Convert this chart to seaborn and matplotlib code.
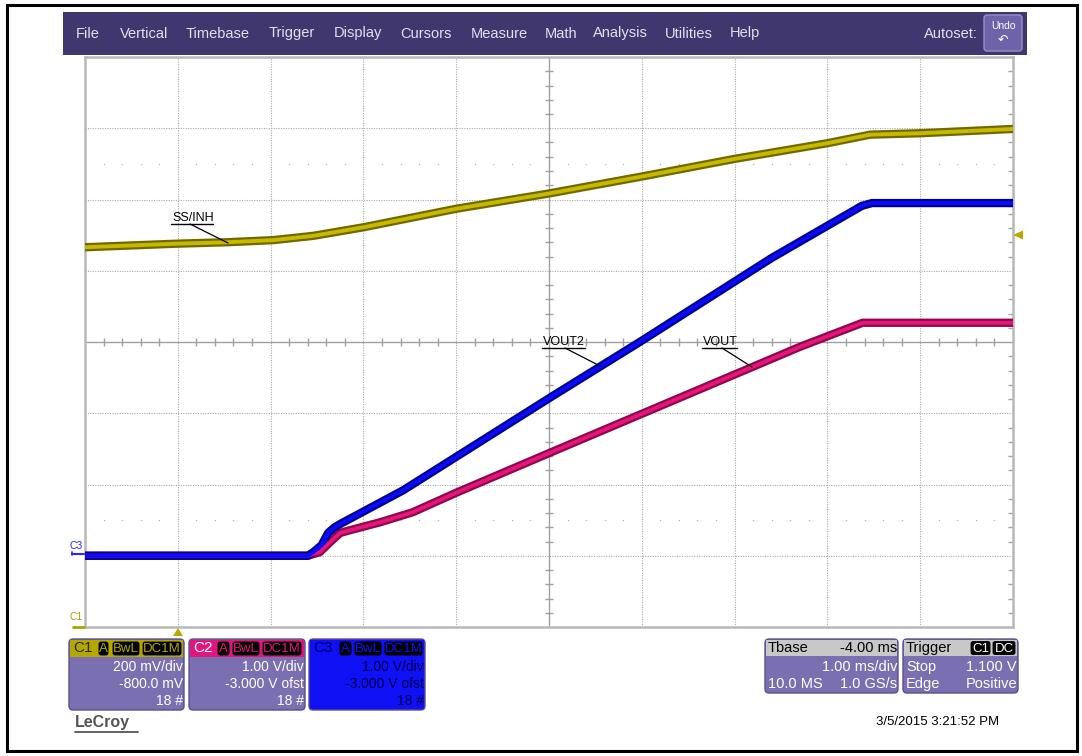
import numpy as np
import pandas as pd
import seaborn as sns
import matplotlib
matplotlib.use("Agg")
import matplotlib.pyplot as plt
from matplotlib.patches import FancyBboxPatch, Rectangle, Polygon

# ---------------- data ----------------
c1_time_ms = [-1.0, -0.01, 0.53, 1.03, 1.46, 2.0, 3.0, 3.98, 4.99, 6.0, 7.0, 7.46, 8.0, 9.0]
c1_volts = [1.066, 1.076, 1.080, 1.086, 1.098, 1.122, 1.174, 1.216, 1.264, 1.314, 1.358, 1.382, 1.386, 1.398]

c3_time_ms = [-1.0, 1.40, 1.46, 1.55, 1.62, 1.69, 1.77, 2.43, 4.0, 4.99, 6.40, 7.37, 7.48, 9.0]
c3_volts = [0.0, 0.0, 0.05, 0.15, 0.32, 0.40, 0.46, 0.92, 2.21, 3.01, 4.18, 4.91, 4.95, 4.95]

c2_time_ms = [-1.0, 1.40, 1.53, 1.64, 1.75, 1.86, 2.18, 2.53, 3.01, 4.0, 6.70, 7.38, 9.0]
c2_volts = [0.0, 0.0, 0.05, 0.19, 0.32, 0.36, 0.47, 0.61, 0.89, 1.44, 2.93, 3.27, 3.27]

# channel settings (volts/div, offset volts)
c1_scale, c1_offset = 0.2, -0.8
c2_scale, c2_offset = 1.0, -3.0
c3_scale, c3_offset = 1.0, -3.0
time_per_div_ms = 1.0
tbase_delay_ms = -4.0

menu_items = ["File", "Vertical", "Timebase", "Trigger", "Display", "Cursors",
              "Measure", "Math", "Analysis", "Utilities", "Help"]

# ---------------- figure ----------------
sns.set_theme(style="white")
plt.rcParams['font.family'] = ['Liberation Sans', 'DejaVu Sans']
W, H = 1082, 756
fig = plt.figure(figsize=(W / 100, H / 100), dpi=100)
fig.patch.set_facecolor('white')

# scope graticule axes
L, T, R, B = 85, 57, 1013, 627
ax = fig.add_axes([L / W, (H - B) / H, (R - L) / W, (B - T) / H])
ax.set_zorder(1)
ax.set_facecolor('white')
center_t = -tbase_delay_ms
x0 = center_t - 5 * time_per_div_ms
x1 = center_t + 5 * time_per_div_ms
ax.set_xlim(x0, x1)
ax.set_ylim(0, 8)
ax.set_xticks([]); ax.set_yticks([])
for s in ax.spines.values():
    s.set_color('#b8b8b8'); s.set_linewidth(1.8)

grid_col = '#aaaaaa'
for k in range(1, 10):
    if k == 5:
        continue
    ax.axvline(x0 + k, color=grid_col, lw=0.8, ls=(0, (1, 1.2)), zorder=0)
for k in range(1, 8):
    if k == 4:
        continue
    ax.axhline(k, color=grid_col, lw=0.8, ls=(0, (1, 1.2)), zorder=0)
# center cross
ax.axvline(center_t, color='#a0a0a0', lw=1.0, zorder=0)
ax.axhline(4, color='#a0a0a0', lw=1.0, zorder=0)
px_x = (x1 - x0) / (R - L)
px_y = 8 / (B - T)
xt = np.array([x0 + 0.2 * k for k in range(51) if k % 5 != 0])
ax.vlines(xt, 4 - 4 * px_y, 4 + 4 * px_y, color='#a0a0a0', lw=1.0, zorder=0)
yt = np.array([0.2 * k for k in range(41) if k % 5 != 0])
ax.hlines(yt, center_t - 4 * px_x, center_t + 4 * px_x, color='#a0a0a0', lw=1.0, zorder=0)
ax.hlines(yt, x1 - 5 * px_x, x1, color='#a8a8a8', lw=1.0, zorder=0)
# dot rows
for yy in (1.5, 6.5):
    ax.plot(xt, np.full_like(xt, yy), ls='none', marker='s', ms=0.9, mew=0,
            color='#b4b4b4', zorder=0)

def to_div(v, scale, offset):
    return (np.asarray(v) + offset) / scale + 4

traces = [
    (c1_time_ms, to_div(c1_volts, c1_scale, c1_offset), '#6f6a00', '#c8b800'),
    (c2_time_ms, to_div(c2_volts, c2_scale, c2_offset), '#8c0a48', '#e8147e'),
    (c3_time_ms, to_div(c3_volts, c3_scale, c3_offset), '#00008c', '#0a0aff'),
]
for t, d, dark, bright in traces:
    sns.lineplot(x=t, y=d, ax=ax, color=dark, linewidth=6.0, estimator=None,
                 sort=False, legend=False, zorder=3, solid_capstyle='butt')
    sns.lineplot(x=t, y=d, ax=ax, color=bright, linewidth=2.8, estimator=None,
                 sort=False, legend=False, zorder=4, solid_capstyle='butt')

# overlay axes in pixel coordinates
axo = fig.add_axes([0, 0, 1, 1])
axo.set_zorder(3)
axo.set_xlim(0, W); axo.set_ylim(H, 0)
axo.axis('off')
axo.patch.set_alpha(0)

# outer border
axo.add_patch(Rectangle((7, 5), 1070, 746, fill=False, ec='black', lw=2.2))

# menu bar
menu_col = '#41376f'
axo.add_patch(Rectangle((63, 12), 964, 43, fc=menu_col, ec='none'))
menu_x = [76, 120, 186, 269, 334, 400, 471, 545, 593, 665, 730]
for lab, xx in zip(menu_items, menu_x):
    axo.text(xx, 33.5, lab, color='#e2e0f0', fontsize=10.5, ha='left', va='center')
axo.text(978, 34, "Autoset:", color='#e2e0f0', fontsize=10.5, ha='right', va='center')
axo.add_patch(FancyBboxPatch((984, 15), 38, 36, boxstyle="round,pad=0,rounding_size=3",
                             fc='#6e62aa', ec='#9890c8', lw=1))
axo.text(1003, 26, "Undo", color='white', fontsize=7.5, ha='center', va='center')
axo.text(1003, 40, "\u21b6", color='white', fontsize=9, ha='center', va='center',
         family=['DejaVu Sans'])

# trace labels with leaders
def tag(x, y, txt, w, lx0, ly0, lx1, ly1):
    axo.text(x, y, txt, color='black', fontsize=9, ha='left', va='baseline')
    axo.plot([x - 1, x + w], [y + 3, y + 3], color='black', lw=1.0)
    axo.plot([lx0, lx1], [ly0, ly1], color='black', lw=0.9)

tag(172, 221, "SS/INH", 41, 190, 224, 228, 243)
tag(543, 345, "VOUT2", 42, 565, 348, 600, 366)
tag(703, 345, "VOUT", 34, 722, 348, 752, 367)

# channel markers at left
axo.text(69, 546, "C3", color='#2828ff', fontsize=7.5, ha='left', va='center')
axo.plot([72, 84], [554, 554], color='#2828ff', lw=1.5)
axo.plot([72, 72], [552, 555], color='#2828ff', lw=1.2)
axo.text(69, 617, "C1", color='#b0a000', fontsize=7.5, ha='left', va='center')
axo.plot([73, 84], [627, 627], color='#b0a000', lw=2.0)

# trigger level and position markers
axo.add_patch(Polygon([(1013, 235), (1023, 230.5), (1023, 239.5)], closed=True, fc='#b8a800', ec='none'))
axo.add_patch(Polygon([(173, 636), (183, 636), (178, 628)], closed=True, fc='#b8a800', ec='none'))

# bottom channel panels
body_col = '#7a6fb0'
edge_col = '#5a508f'

def pill(xa, xb, yc, txt, col, tcol=None):
    axo.add_patch(FancyBboxPatch((xa, yc - 7.5), xb - xa, 15, boxstyle="round,pad=0,rounding_size=3",
                                 fc='black', ec=col, lw=0.8))
    axo.text((xa + xb) / 2, yc + 0.5, txt, color=tcol or col, ha='center', va='center', fontsize=9.5)

def ch_panel(xa, xb, head_col, full_col, name, name_col, pills, lines, text_col):
    axo.add_patch(FancyBboxPatch((xa, 639), xb - xa, 71, boxstyle="round,pad=0,rounding_size=4",
                                 fc=full_col, ec=edge_col, lw=1))
    axo.add_patch(Rectangle((xa + 1, 640), xb - xa - 2, 17, fc=head_col, ec='none'))
    axo.text(xa + 4, 648.5, name, color=name_col, fontsize=11, ha='left', va='center')
    for (pa, pb, txt) in pills:
        pill(pa, pb, 648.5, txt, head_col)
    for yy, txt in zip([667, 684, 701], lines):
        axo.text(xb - 1, yy, txt, color=text_col, fontsize=10, ha='right', va='center')

ch_panel(69, 184, '#b4a800', body_col, "C1", '#2a2600',
         [(98, 109, "A"), (112, 140, "BwL"), (142, 182, "DC1M")],
         ["200 mV/div", "-800.0 mV", "18 #"], 'white')
ch_panel(189, 305, '#e0167c', body_col, "C2", '#ffffff',
         [(217, 230, "A"), (232, 260, "BwL"), (262, 302, "DC1M")],
         ["1.00 V/div", "-3.000 V ofst", "18 #"], 'white')
ch_panel(309, 425, '#1010f4', '#1010f4', "C3", '#000060',
         [(339, 352, "A"), (354, 382, "BwL"), (384, 423, "DC1M")],
         ["1.00 V/div", "-3.000 V ofst", "18 #"], '#000050')

# timebase / trigger panels
def info_panel(xa, xb, head_left, head_right, rows):
    axo.add_patch(FancyBboxPatch((xa, 639), xb - xa, 54, boxstyle="round,pad=0,rounding_size=4",
                                 fc=body_col, ec=edge_col, lw=1))
    axo.add_patch(Rectangle((xa + 1, 640), xb - xa - 2, 16, fc='#c8c8c8', ec='none'))
    axo.text(xa + 3, 648, head_left, color='black', fontsize=10.5, ha='left', va='center')
    if head_right:
        axo.text(xb - 1, 648, head_right, color='black', fontsize=10.5, ha='right', va='center')
    for yy, (lt, rt) in zip([667, 684], rows):
        if lt:
            axo.text(xa + 3, yy, lt, color='white', fontsize=10.5, ha='left', va='center')
        axo.text(xb - 1, yy, rt, color='white', fontsize=10.5, ha='right', va='center')

info_panel(765, 898, "Tbase", "-4.00 ms", [("", "1.00 ms/div"), ("10.0 MS", "1.0 GS/s")])
info_panel(903, 1018, "Trigger", None, [("Stop", "1.100 V"), ("Edge", "Positive")])
pill(970, 991, 648, "C1", '#c8c8c8', 'white')
pill(992, 1016, 648, "DC", '#c8c8c8', 'white')

axo.text(75, 722, "LeCroy", color='#555555', fontsize=11.5, fontweight='bold', ha='left', va='center')
axo.plot([75, 138], [732, 732], color='#555555', lw=1.3)
axo.text(938, 722, "3/5/2015 3:21:52 PM", color='black', fontsize=9.5, ha='center', va='center')

fig.savefig("out.png", dpi=100)
